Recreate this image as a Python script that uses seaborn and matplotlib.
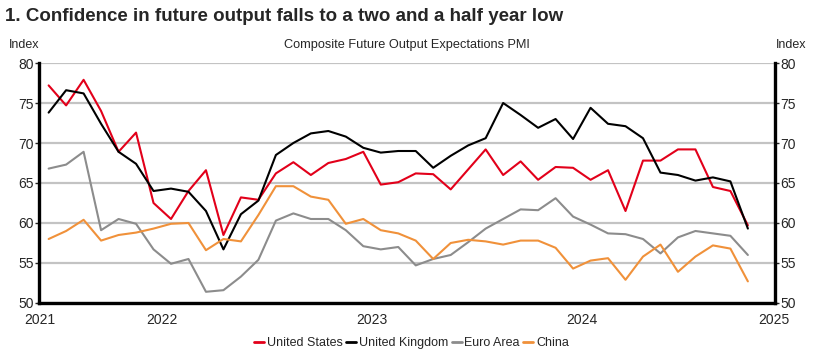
import numpy as np
import pandas as pd
import matplotlib
matplotlib.use("Agg")
import matplotlib.pyplot as plt
import seaborn as sns

# monthly readings, 41 months
us = [77.2, 74.7, 77.9, 74.0, 68.9, 71.3, 62.5, 60.5, 64.0, 66.6, 58.5,
      63.2, 62.9, 66.2, 67.6, 66.0, 67.5, 68.0, 68.9, 64.8, 65.1, 66.2,
      66.1, 64.2, 66.7, 69.2, 66.0, 67.7, 65.4, 67.0, 66.9, 65.4, 66.6,
      61.5, 67.8, 67.8, 69.2, 69.2, 64.5, 64.0, 59.7]
uk = [73.8, 76.6, 76.2, 72.4, 68.9, 67.4, 64.0, 64.3, 63.9, 61.5, 56.7,
      61.1, 62.8, 68.5, 70.0, 71.2, 71.5, 70.8, 69.4, 68.8, 69.0, 69.0,
      66.9, 68.4, 69.7, 70.6, 75.0, 73.5, 71.9, 73.0, 70.5, 74.4, 72.4,
      72.1, 70.6, 66.3, 66.0, 65.3, 65.7, 65.2, 59.3]
ea = [66.8, 67.3, 68.9, 59.1, 60.5, 59.9, 56.7, 54.9, 55.5, 51.4, 51.6,
      53.3, 55.4, 60.3, 61.2, 60.5, 60.5, 59.1, 57.1, 56.7, 57.0, 54.7,
      55.5, 56.0, 57.6, 59.3, 60.5, 61.7, 61.6, 63.1, 60.8, 59.8, 58.7,
      58.6, 58.0, 56.2, 58.2, 59.0, 58.7, 58.4, 56.0]
china = [58.0, 59.0, 60.4, 57.8, 58.5, 58.8, 59.3, 59.9, 60.0, 56.6, 58.0,
         57.7, 61.0, 64.6, 64.6, 63.3, 62.9, 59.9, 60.5, 59.1, 58.7, 57.8,
         55.5, 57.5, 57.9, 57.7, 57.3, 57.8, 57.8, 56.9, 54.3, 55.3, 55.6,
         52.9, 55.8, 57.3, 53.9, 55.8, 57.2, 56.8, 52.7]

series_names = ["United States", "United Kingdom", "Euro Area", "China"]
colors = ["#e2001a", "#000000", "#8c8c8c", "#f0913a"]
year_labels = ["2021", "2022", "2023", "2024", "2025"]
year_pos = [-0.5, 6.5, 18.5, 30.5, 41.5]
tick_pos = [0.5, 12.5, 24.5, 36.5]

month = np.arange(len(us))
df = pd.concat([
    pd.DataFrame({"month": month, "value": vals, "series": name})
    for name, vals in zip(series_names, [us, uk, ea, china])
])

sns.set_style("white")
plt.rcParams["font.family"] = ["Liberation Sans", "DejaVu Sans"]

fig = plt.figure(figsize=(8.18, 3.57), dpi=100)
ax = fig.add_axes([0.0477, 0.1513, 0.8997, 0.6722])

sns.lineplot(data=df, x="month", y="value", hue="series",
             hue_order=series_names, palette=colors, linewidth=1.5,
             ax=ax, legend=False)

ax.set_xlim(-0.55, 41.55)
ax.set_ylim(50, 80)
ax.set_yticks(range(50, 81, 5))
ax.yaxis.grid(True, color="#c3c3c3", linewidth=1.6)
ax.set_axisbelow(True)
ax.set_xlabel("")
ax.set_ylabel("")

for side in ["left", "right", "bottom"]:
    ax.spines[side].set_linewidth(2.4)
    ax.spines[side].set_color("black")
ax.spines["top"].set_visible(False)

ax.tick_params(axis="y", left=True, right=True, labelleft=True, labelright=True,
               direction="out", length=3, width=1, labelsize=10, pad=1)
ax.set_xticks(tick_pos)
ax.set_xticklabels([])
ax.tick_params(axis="x", which="major", direction="out", length=4, width=2)
ax.set_xticks(year_pos, minor=True)
ax.set_xticklabels(year_labels, minor=True)
ax.tick_params(axis="x", which="minor", length=0, labelsize=10, pad=7)

fig.text(0.006, 0.953, "1. Confidence in future output falls to a two and a half year low",
         fontsize=13.5, fontweight="bold", va="center", ha="left")
fig.text(0.029, 0.875, "Index", fontsize=9, ha="center", va="center")
fig.text(0.967, 0.875, "Index", fontsize=9, ha="center", va="center")
fig.text(0.4976, 0.875, "Composite Future Output Expectations PMI",
         fontsize=9.2, ha="center", va="center")

handles = [plt.Line2D([], [], color=c, linewidth=2) for c in colors]
fig.legend(handles, series_names, loc="center", bbox_to_anchor=(0.503, 0.038),
           ncol=4, frameon=False, fontsize=9, handlelength=0.8,
           handletextpad=0.2, columnspacing=0.3)

fig.savefig("out.png", dpi=100)
